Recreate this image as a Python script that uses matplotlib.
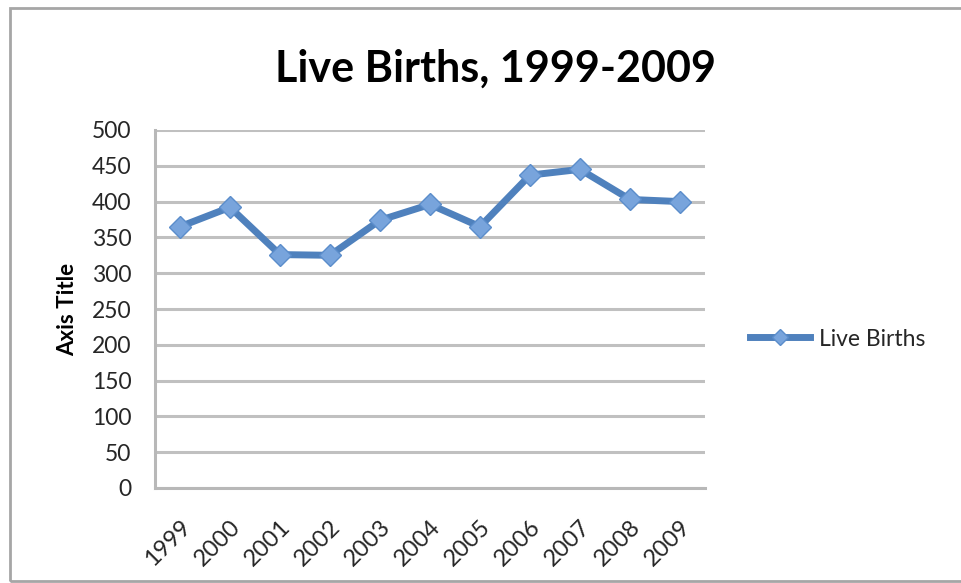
import matplotlib
matplotlib.use("Agg")
import matplotlib.pyplot as plt
from matplotlib.patches import Rectangle

years = ["1999", "2000", "2001", "2002", "2003", "2004", "2005", "2006", "2007", "2008", "2009"]
live_births = [365, 392, 326, 325, 374, 396, 365, 437, 445, 403, 400]
y_ticks = [0, 50, 100, 150, 200, 250, 300, 350, 400, 450, 500]

plt.rcParams['font.family'] = ['Lato', 'DejaVu Sans']

W, H = 961, 583
fig = plt.figure(figsize=(W / 100, H / 100), dpi=100)
ax = fig.add_axes([155 / W, 1 - 488 / H, 550 / W, 358 / H])

line_color = '#4F81BD'
x = list(range(len(years)))
ax.plot(x, live_births, color=line_color, linewidth=5, marker='D', markersize=11.5,
        markerfacecolor='#78A4DC', markeredgecolor='#5B8DCB', markeredgewidth=1.0,
        label='Live Births', solid_joinstyle='round')

ax.set_xlim(-0.5, len(years) - 0.5)
ax.set_ylim(0, 500)
ax.set_yticks(y_ticks)
ax.set_xticks(x)
ax.set_xticklabels(years, rotation=45, ha='right', rotation_mode='anchor', fontsize=17, color='#262626')
ax.tick_params(axis='y', labelsize=16.5, labelcolor='#262626', length=0, pad=17)
ax.tick_params(axis='x', length=0, pad=20)

ax.grid(axis='y', color='#C0C0C0', linewidth=2.2)
ax.set_axisbelow(True)
for s in ['top', 'right']:
    ax.spines[s].set_visible(False)
for s in ['left', 'bottom']:
    ax.spines[s].set_color('#B8B8B8')
    ax.spines[s].set_linewidth(2.2)

ax.set_ylabel('Axis Title', fontsize=16, fontweight='bold', labelpad=10)
fig.text(495 / W, 1 - 82 / H, 'Live Births, 1999-2009', ha='center', va='baseline', fontsize=31, fontweight='bold')

leg = ax.legend(loc='center left', bbox_to_anchor=(750 / W, 1 - 339 / H), bbox_transform=fig.transFigure,
                frameon=False, fontsize=16.5, handlelength=2.6, handletextpad=0.4, markerscale=0.7,
                borderpad=0, borderaxespad=0)
for t in leg.get_texts():
    t.set_color('#262626')

fig.patches.append(Rectangle((10 / W, 2 / H), 1.0, 573 / H, transform=fig.transFigure,
                             fill=False, edgecolor='#A6A6A6', linewidth=2.0))

fig.savefig('out.png', dpi=100)
